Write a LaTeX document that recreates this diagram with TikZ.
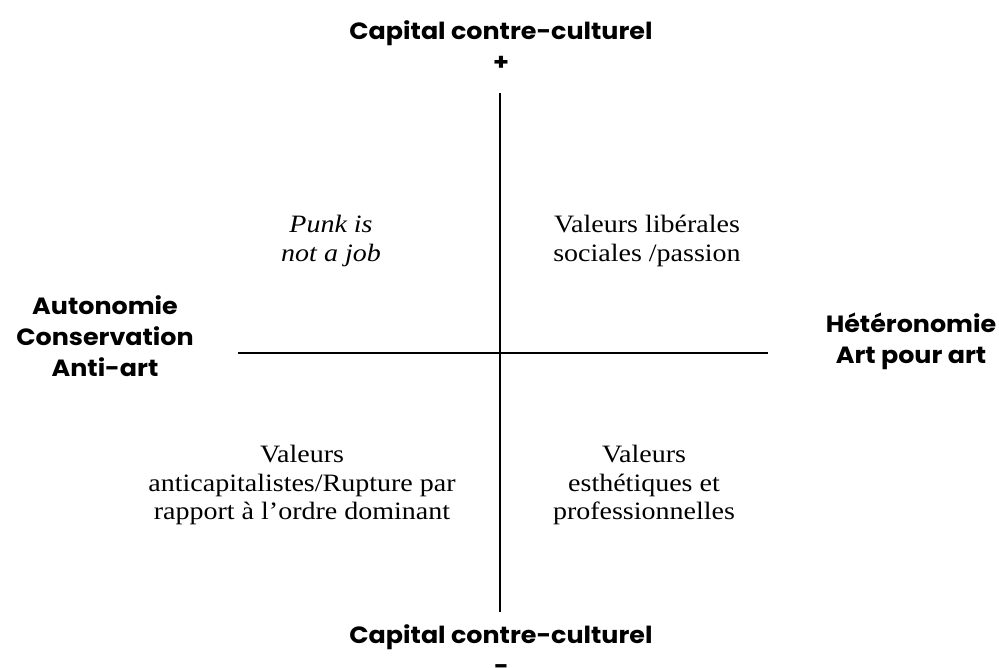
\documentclass[tikz,border=0pt]{standalone}
\usepackage{fontspec}
\setmainfont{Liberation Serif}[FakeStretch=1.12]
\newfontfamily\headfont{Poppins}[UprightFont=* Bold,FakeStretch=1.08]
\begin{document}
\begin{tikzpicture}[x=1pt,y=-1pt,
  axis/.style={line width=2pt,black},
  head/.style={font=\headfont\fontsize{23.5}{31}\selectfont,align=center,inner sep=0pt},
  body/.style={font=\fontsize{25}{28.5}\selectfont,align=center,inner sep=0pt}]
\useasboundingbox (0,0) rectangle (999,668);
\coordinate (top) at (500,93);
\coordinate (bot) at (500,612);
\coordinate (lft) at (238,353);
\coordinate (rgt) at (768,353);
\draw[axis] (top) -- (bot);
\draw[axis] (lft) -- (rgt);
\node[head] (ctop) at (501,46) {Capital contre-culturel\\+};
\node[head] (cbot) at (501,650) {Capital contre-culturel\\−};
\node[head] (auto) at (105,336) {Autonomie\\Conservation\\Anti-art};
\node[head] (hete) at (911,341) {Hétéronomie\\Art pour art};
\node[body,font=\itshape\fontsize{25}{29}\selectfont] (punk) at (331,241) {Punk is\\not a job};
\node[body] (lib) at (647,241) {Valeurs libérales\\sociales /passion};
\node[body] (anti) at (302,485) {Valeurs\\anticapitalistes/Rupture par\\rapport à l’ordre dominant};
\node[body] (esth) at (644,485) {Valeurs\\esthétiques et\\professionnelles};
\end{tikzpicture}
\end{document}
